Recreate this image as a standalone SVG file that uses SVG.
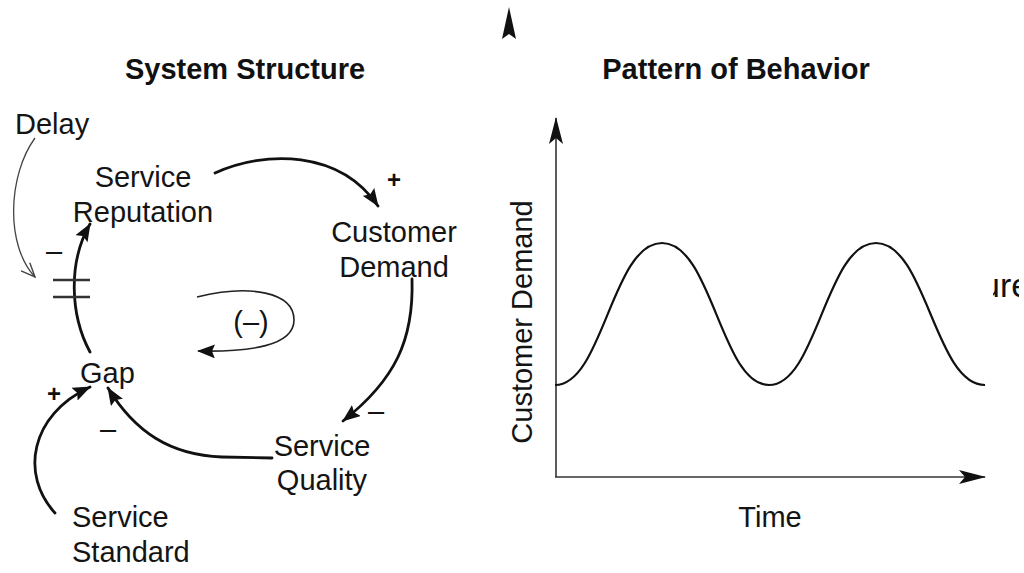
<svg xmlns="http://www.w3.org/2000/svg" width="1024" height="573" viewBox="0 0 1024 573">
<style>
.t{font-family:"Liberation Sans",Arial,sans-serif;font-size:29px;fill:#141414}
.h{font-family:"Liberation Sans",Arial,sans-serif;font-size:29px;font-weight:bold;fill:#111}
.pl{font-family:"Liberation Sans",Arial,sans-serif;font-size:24px;font-weight:bold;fill:#111}
.c{fill:none;stroke:#111;stroke-width:2.8;stroke-linecap:round}
.thin{fill:none;stroke:#222;stroke-width:1.6}
.ax{fill:none;stroke:#333;stroke-width:1.6}
</style>
<defs>
<marker id="ah" markerUnits="userSpaceOnUse" markerWidth="18" markerHeight="14" viewBox="0 0 18 14" refX="17" refY="7" orient="auto">
<path d="M0,0 L18,7 L0,14 L3,7 Z" fill="#111"/>
</marker>
<marker id="ax" markerUnits="userSpaceOnUse" markerWidth="27" markerHeight="14" viewBox="0 0 27 14" refX="26" refY="7" orient="auto">
<path d="M0,0 L27,7 L0,14 L6,7 Z" fill="#111"/>
</marker>
<marker id="open" markerUnits="userSpaceOnUse" markerWidth="16" markerHeight="14" viewBox="0 0 16 14" refX="15" refY="7" orient="auto">
<path d="M1,1 L15,7 L1,13" fill="none" stroke="#444" stroke-width="1.4"/>
</marker>
<clipPath id="edge"><rect x="993" y="255" width="26" height="55"/></clipPath>
</defs>
<rect width="1024" height="573" fill="#fff"/>

<path d="M509,7 L516,39 L509,34 L502,39 Z" fill="#111"/>

<text class="h" x="245" y="79" text-anchor="middle">System Structure</text>
<text class="h" x="736" y="79" text-anchor="middle">Pattern of Behavior</text>

<g id="connectors">
<path class="c" d="M215,173 C265,150 340,150 378,206" marker-end="url(#ah)"/>
<path class="c" d="M412,279 C414,340 395,380 343,421" marker-end="url(#ah)"/>
<path class="c" d="M272,458 L222,457 C170,455 135,432 108,388" marker-end="url(#ah)"/>
<path class="c" d="M55,513 C20,475 30,415 90,387" marker-end="url(#ah)"/>
<path class="c" d="M90,352 C70,315 68,262 90,224" marker-end="url(#ah)"/>
<path class="thin" d="M197,297 C250,284 294,292 294,320 C294,346 250,352 198,351" marker-end="url(#ah)"/>
<path d="M35,138 C8,175 5,245 35,277" fill="none" stroke="#444" stroke-width="1.3" marker-end="url(#open)"/>
<line x1="53" y1="280" x2="90" y2="280" stroke="#333" stroke-width="2.5"/>
<line x1="53" y1="297" x2="90" y2="297" stroke="#333" stroke-width="2.5"/>
</g>

<g id="labels">
<text class="t" x="15" y="134">Delay</text>
<text class="pl" x="394" y="188" text-anchor="middle">+</text>
<text class="pl" x="54" y="402" text-anchor="middle">+</text>
<text class="t" x="54" y="261" text-anchor="middle">–</text>
<text class="t" x="108" y="439" text-anchor="middle">–</text>
<text class="t" x="376" y="421" text-anchor="middle">–</text>
<text class="t" x="251" y="332" text-anchor="middle">(–)</text>
</g>

<g id="service-reputation">
<text class="t" x="143" y="187" text-anchor="middle">Service</text>
<text class="t" x="143" y="222" text-anchor="middle">Reputation</text>
</g>
<g id="customer-demand">
<text class="t" x="394" y="242" text-anchor="middle">Customer</text>
<text class="t" x="394" y="277" text-anchor="middle">Demand</text>
</g>
<g id="gap">
<text class="t" x="80" y="383">Gap</text>
</g>
<g id="service-quality">
<text class="t" x="322" y="456" text-anchor="middle">Service</text>
<text class="t" x="322" y="490" text-anchor="middle">Quality</text>
</g>
<g id="service-standard">
<text class="t" x="72" y="527">Service</text>
<text class="t" x="72" y="562">Standard</text>
</g>

<g id="chart">
<path class="ax" d="M556,477 L556,118" marker-end="url(#ax)"/>
<path class="ax" d="M555,477 L985,477" marker-end="url(#ax)"/>
<path d="M555,385 C603,385 612,243 662,243 C712,243 721,385 769,385 C817,385 826,243 876,243 C926,243 935,385 985,385" fill="none" stroke="#111" stroke-width="2.2"/>
<text class="t" x="770" y="527" text-anchor="middle">Time</text>
<text class="t" transform="translate(532,322) rotate(-90)" text-anchor="middle">Customer Demand</text>
</g>

<text clip-path="url(#edge)" x="981" y="297" style="font-family:'Liberation Sans',Arial,sans-serif;font-size:34px;fill:#111">ure</text>
</svg>
